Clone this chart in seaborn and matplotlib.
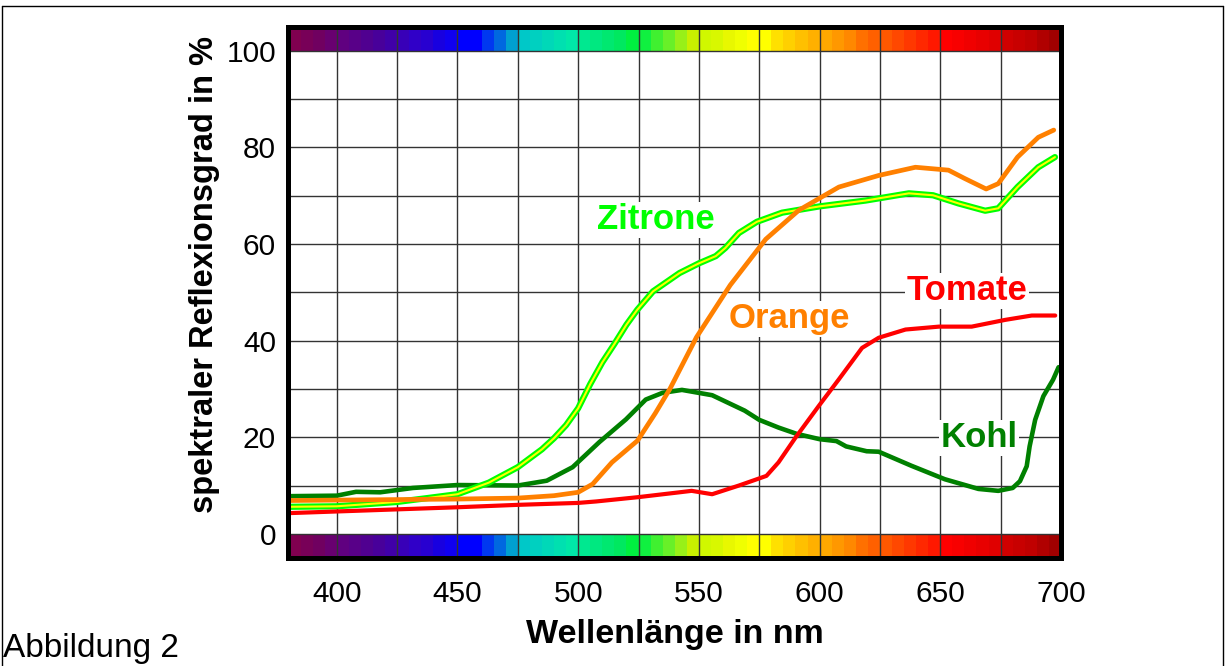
import numpy as np
import pandas as pd
import matplotlib
matplotlib.use("Agg")
import matplotlib.pyplot as plt
from matplotlib.lines import Line2D
import seaborn as sns

# Reflexionskurven, Wellenlaenge in nm / Reflexionsgrad in %
zitrone_nm = [381, 400, 425, 450, 463, 475, 485, 490, 495, 500, 505, 510, 515, 520, 524.5, 531, 542,
              550, 557, 561, 566.6, 574, 584.5, 600, 619, 637, 647, 657.6, 668.6, 674, 682, 690.6, 697.5]
zitrone_val = [5.6, 5.7, 6.6, 8.2, 10.6, 13.8, 17.5, 19.8, 22.5, 26.0, 31.0, 35.5, 39.3, 43.3, 46.4, 50.2, 54.0,
               56.0, 57.5, 59.2, 62.3, 64.6, 66.5, 67.8, 69.0, 70.5, 70.1, 68.4, 66.9, 67.4, 71.8, 75.9, 78.0]

orange_nm = [381, 450, 475, 490, 500, 506, 514, 524.6, 532, 538, 549, 563, 577.7, 591.4, 608, 624.5,
             639.7, 653.4, 660, 669, 674, 682, 690.6, 697]
orange_val = [6.9, 7.2, 7.4, 7.9, 8.6, 10.3, 14.8, 19.3, 25.0, 30.0, 40.7, 51.5, 61.0, 67.0, 71.8, 74.2,
              75.9, 75.3, 73.6, 71.4, 72.5, 78.0, 82.1, 83.6]

tomate_nm = [381, 450, 475, 500, 507.4, 525, 542, 547, 555.5, 566.6, 578, 583, 590, 599.7, 608,
             617.6, 624.5, 635.6, 649.4, 663, 676.9, 687.9, 697.6]
tomate_val = [4.3, 5.5, 6.0, 6.4, 6.7, 7.6, 8.6, 8.9, 8.2, 10.0, 12.0, 14.8, 19.9, 26.5, 32.0,
              38.5, 40.6, 42.3, 42.9, 42.9, 44.3, 45.2, 45.2]

kohl_nm = [381, 400, 408, 418, 431.6, 450, 475, 487, 497.7, 508.8, 519.8, 528, 535, 543, 555.5,
           569, 575, 583, 590.5, 600, 607, 611, 619.5, 624.5, 638, 651.9, 665.8, 674, 680, 683,
           685.8, 687, 689.3, 692.7, 696.7, 699]
kohl_val = [7.8, 7.9, 8.7, 8.6, 9.5, 10.1, 10.0, 11.0, 13.8, 19.0, 23.7, 27.8, 29.2, 29.8, 28.7,
            25.5, 23.6, 22.0, 20.7, 19.6, 19.2, 18.1, 17.1, 17.0, 14.1, 11.3, 9.3, 8.9, 9.5, 10.9,
            14.0, 18.1, 23.6, 28.5, 31.9, 34.5]

# Farbband (je 5 nm ab 380 nm)
spectrum_start = 380
spectrum_step = 5
spectrum_colors = [
    "#800050", "#780058", "#700060", "#680070", "#600080", "#580088", "#500090", "#48009a",
    "#4000a8", "#3800b8", "#3000c8", "#2800d0", "#1800e0", "#1000f0", "#0000ff", "#0000ff",
    "#0038f0", "#0068e0", "#00a0d0", "#00c8c8", "#00d0c0", "#00d8b8", "#00e0b0", "#00e8a8",
    "#00e890", "#00e880", "#00e870", "#00e860", "#00f040", "#10f040", "#40f030", "#68f028",
    "#98f018", "#c8f000", "#d0f800", "#d8f800", "#e8f800", "#f0ff00", "#ffff00", "#ffff00",
    "#ffe000", "#ffd000", "#ffc000", "#ffb000", "#ffa800", "#ff9800", "#ff8800", "#ff7000",
    "#ff6000", "#ff5800", "#ff4800", "#ff3800", "#ff2800", "#ff1800", "#ff0000", "#f80000",
    "#f00000", "#e80000", "#e00000", "#d00000", "#c80000", "#c00000", "#b00000", "#a00000",
]

x_ticks = [400, 450, 500, 550, 600, 650, 700]
y_ticks = [0, 20, 40, 60, 80, 100]

sns.set_style("white")
plt.rcParams['font.family'] = ['Liberation Sans', 'DejaVu Sans']
plt.rcParams['text.color'] = 'black'
plt.rcParams['axes.labelcolor'] = 'black'
plt.rcParams['xtick.color'] = 'black'
plt.rcParams['ytick.color'] = 'black'

fig = plt.figure(figsize=(12.29, 6.66), dpi=100)
ax = fig.add_axes([0.2347, 0.1622, 0.6286, 0.7977])

# Farbbaender oben und unten
band_x = [spectrum_start + i * spectrum_step for i in range(len(spectrum_colors))]
ax.bar(band_x, 5, width=spectrum_step, bottom=100, align='edge', color=spectrum_colors,
       linewidth=0, zorder=1)
ax.bar(band_x, 5, width=spectrum_step, bottom=-5, align='edge', color=spectrum_colors,
       linewidth=0, zorder=1)

# Kurven
style = dict(solid_capstyle='round', solid_joinstyle='round')
sns.lineplot(x=kohl_nm, y=kohl_val, color="#008000", lw=3.3, ax=ax, zorder=3, **style)
sns.lineplot(x=zitrone_nm, y=zitrone_val, color="#00ff00", lw=4.5, ax=ax, zorder=4, **style)
sns.lineplot(x=zitrone_nm, y=zitrone_val, color="#ffff00", lw=1.5, ax=ax, zorder=4.5, **style)
sns.lineplot(x=orange_nm, y=orange_val, color="#ff8000", lw=3.4, ax=ax, zorder=5, **style)
sns.lineplot(x=tomate_nm, y=tomate_val, color="#ff0000", lw=3.0, ax=ax, zorder=6, **style)

# Beschriftungen
box = dict(facecolor='white', edgecolor='none', pad=1)
ax.text(532, 65, "Zitrone", color="#00ff00", fontsize=25, fontweight='bold',
        ha='center', va='center', bbox=box, zorder=7)
ax.text(587.5, 44.5, "Orange", color="#ff8000", fontsize=25, fontweight='bold',
        ha='center', va='center', bbox=box, zorder=7)
ax.text(661, 50.3, "Tomate", color="#ff0000", fontsize=25, fontweight='bold',
        ha='center', va='center', bbox=box, zorder=7)
ax.text(666, 19.9, "Kohl", color="#008000", fontsize=25, fontweight='bold',
        ha='center', va='center', bbox=box, zorder=7)

ax.set_xlim(380, 700)
ax.set_ylim(-5, 105)
ax.set_xticks(x_ticks)
ax.set_xticks(np.arange(425, 700, 50), minor=True)
ax.set_yticks(y_ticks)
ax.set_yticks(np.arange(10, 100, 20), minor=True)
ax.grid(True, which='both', color='#333333', lw=1.0, zorder=2)
ax.set_axisbelow(False)
for gl in ax.get_xgridlines() + ax.get_ygridlines():
    gl.set_zorder(2)
ax.tick_params(which='both', length=0, labelsize=21.5)
ax.tick_params(axis='x', pad=16)
ax.tick_params(axis='y', pad=9)

for sp in ax.spines.values():
    sp.set_visible(True)
    sp.set_color('black')
    sp.set_linewidth(3.6)
    sp.set_zorder(10)

ax.set_xlabel("Wellenlänge in nm", fontsize=24.5, fontweight='bold', labelpad=8)
ax.set_ylabel("spektraler Reflexionsgrad in %", fontsize=23.5, fontweight='bold')
ax.yaxis.set_label_coords(-0.088, 0.533)

fig.text(3 / 1229, 1 - 649 / 666, "Abbildung 2", fontsize=24, ha='left', va='center')

# Rahmen um die Abbildung
frame = dict(color='black', lw=1.0, transform=fig.transFigure)
fig.add_artist(Line2D([1.5 / 1229, 1.5 / 1229], [0, 1 - 5.5 / 666], **frame))
fig.add_artist(Line2D([1.5 / 1229, 1222.5 / 1229], [1 - 5.5 / 666, 1 - 5.5 / 666], **frame))
fig.add_artist(Line2D([1222.5 / 1229, 1222.5 / 1229], [0, 1 - 5.5 / 666], **frame))

fig.savefig("out.png", dpi=100)
